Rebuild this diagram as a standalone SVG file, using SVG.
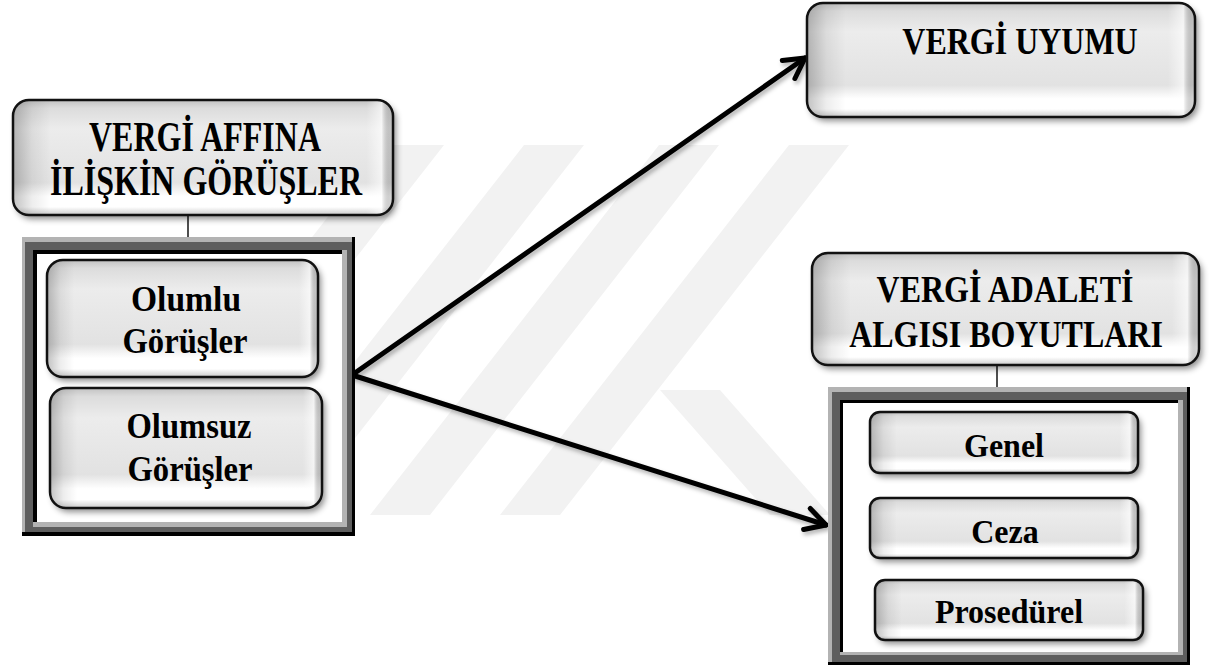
<svg xmlns="http://www.w3.org/2000/svg" width="1216" height="668" viewBox="0 0 1216 668">
  <defs>
    <style>
      .fill{fill:url(#gloss)}
      .edge{fill:url(#edges)}
      .outline{fill:none;stroke:#111;stroke-width:2.5}
      .t{font-family:"Liberation Serif","Times New Roman",serif;font-weight:bold;font-size:32px;fill:#000;text-anchor:middle}
      .wm{fill:#f2f2f2}
      .link{stroke:#222;stroke-width:1.6;fill:none}
      .arrow{stroke:#000;stroke-width:5;fill:none;stroke-linecap:round;marker-end:url(#head)}
    </style>
    <linearGradient id="gloss" x1="0" y1="0" x2="0" y2="1">
      <stop offset="0" stop-color="#c2c2c2"/>
      <stop offset="0.07" stop-color="#dcdcdc"/>
      <stop offset="0.25" stop-color="#ececec"/>
      <stop offset="0.72" stop-color="#e2e2e2"/>
      <stop offset="0.80" stop-color="#f6f6f6"/>
      <stop offset="0.84" stop-color="#ffffff"/>
      <stop offset="0.93" stop-color="#ffffff"/>
      <stop offset="1" stop-color="#cbcbcb"/>
    </linearGradient>
    <linearGradient id="edges" x1="0" y1="0" x2="1" y2="0">
      <stop offset="0" stop-color="#000" stop-opacity="0.24"/>
      <stop offset="0.05" stop-color="#000" stop-opacity="0.07"/>
      <stop offset="0.1" stop-color="#000" stop-opacity="0"/>
      <stop offset="0.93" stop-color="#fff" stop-opacity="0"/>
      <stop offset="0.97" stop-color="#fff" stop-opacity="0.6"/>
      <stop offset="1" stop-color="#000" stop-opacity="0.12"/>
    </linearGradient>
    <filter id="shadow" x="-10%" y="-10%" width="130%" height="150%">
      <feDropShadow dx="3" dy="4" stdDeviation="3" flood-color="#000" flood-opacity="0.45"/>
    </filter>
    <filter id="lineShadow" x="-10%" y="-10%" width="130%" height="130%">
      <feDropShadow dx="2" dy="3" stdDeviation="2" flood-color="#000" flood-opacity="0.3"/>
    </filter>
    <marker id="head" markerUnits="userSpaceOnUse" viewBox="-26 -15 30 30" markerWidth="30" markerHeight="30" refX="0" refY="0" orient="auto">
      <path d="M-20,-11 L0,0 L-20,11" fill="none" stroke="#000" stroke-width="5" stroke-linecap="round" stroke-linejoin="round"/>
    </marker>
  </defs>

  <rect width="1216" height="668" fill="#fff"/>

  <!-- faint background stripes -->
  <g id="watermark">
    <polygon class="wm" points="95,515 155,515 444,145 384,145"/>
    <polygon class="wm" points="235,515 295,515 584,145 524,145"/>
    <polygon class="wm" points="370,515 430,515 719,145 659,145"/>
    <polygon class="wm" points="500,515 560,515 849,145 789,145"/>
    <polygon class="wm" points="660,390 720,390 830,515 770,515"/>
  </g>

  <!-- connectors -->
  <g id="connectors">
    <line class="link" x1="188" y1="215" x2="188" y2="237"/>
    <line class="link" x1="997" y1="365" x2="997" y2="387"/>
    <g filter="url(#lineShadow)">
      <path class="arrow" d="M352,375 L805,58"/>
      <path class="arrow" d="M352,375 L826,525"/>
    </g>
  </g>

  <!-- left container frame -->
  <g id="frame-left">
    <rect x="22" y="237" width="333" height="299" fill="#000"/>
    <rect x="22" y="237" width="330" height="295" fill="#b3b3b3"/>
    <rect x="25" y="242" width="327" height="290" fill="#5e5e5e"/>
    <rect x="33" y="250" width="314" height="277" fill="#b3b3b3"/>
    <rect x="33" y="250" width="309" height="272" fill="#000"/>
    <rect x="37" y="254" width="305" height="268" fill="#fff"/>
  </g>

  <!-- right container frame -->
  <g id="frame-right">
    <rect x="828" y="387" width="362" height="278" fill="#000"/>
    <rect x="828" y="387" width="359" height="275" fill="#b3b3b3"/>
    <rect x="832" y="392" width="355" height="270" fill="#5e5e5e"/>
    <rect x="840" y="400" width="343" height="255" fill="#b3b3b3"/>
    <rect x="840" y="400" width="338" height="252" fill="#000"/>
    <rect x="843" y="403" width="335" height="249" fill="#fff"/>
  </g>

  <g id="vergi-affina">
    <rect class="fill" x="13" y="100" width="380" height="115" rx="16" filter="url(#shadow)"/>
    <rect class="edge" x="13" y="100" width="380" height="115" rx="16"/>
    <rect class="outline" x="13" y="100" width="380" height="115" rx="16"/>
    <text class="t" transform="translate(205 151) scale(1 1.3)">VERGİ AFFINA</text>
    <text class="t" transform="translate(206 195) scale(1 1.3)">İLİŞKİN GÖRÜŞLER</text>
  </g>

  <g id="vergi-uyumu">
    <rect class="fill" x="807" y="3" width="388" height="114" rx="16" filter="url(#shadow)"/>
    <rect class="edge" x="807" y="3" width="388" height="114" rx="16"/>
    <rect class="outline" x="807" y="3" width="388" height="114" rx="16"/>
    <text class="t" transform="translate(1020 54) scale(1 1.2)">VERGİ UYUMU</text>
  </g>

  <g id="vergi-adaleti">
    <rect class="fill" x="812" y="253" width="387" height="112" rx="16" filter="url(#shadow)"/>
    <rect class="edge" x="812" y="253" width="387" height="112" rx="16"/>
    <rect class="outline" x="812" y="253" width="387" height="112" rx="16"/>
    <text class="t" transform="translate(1005 302) scale(1 1.18)">VERGİ ADALETİ</text>
    <text class="t" transform="translate(1006 347) scale(1 1.18)">ALGISI BOYUTLARI</text>
  </g>

  <g id="olumlu">
    <rect class="fill" x="47" y="260" width="271" height="117" rx="16" filter="url(#shadow)"/>
    <rect class="edge" x="47" y="260" width="271" height="117" rx="16"/>
    <rect class="outline" x="47" y="260" width="271" height="117" rx="16"/>
    <text class="t" transform="translate(186 311) scale(1.05 1.15)">Olumlu</text>
    <text class="t" transform="translate(185 353) scale(1.02 1.15)">Görüşler</text>
  </g>

  <g id="olumsuz">
    <rect class="fill" x="50" y="388" width="272" height="120" rx="16" filter="url(#shadow)"/>
    <rect class="edge" x="50" y="388" width="272" height="120" rx="16"/>
    <rect class="outline" x="50" y="388" width="272" height="120" rx="16"/>
    <text class="t" transform="translate(189 438) scale(1.02 1.15)">Olumsuz</text>
    <text class="t" transform="translate(190 481) scale(1.02 1.15)">Görüşler</text>
  </g>

  <g id="genel">
    <rect class="fill" x="870" y="412" width="268" height="61" rx="10" filter="url(#shadow)"/>
    <rect class="edge" x="870" y="412" width="268" height="61" rx="10"/>
    <rect class="outline" x="870" y="412" width="268" height="61" rx="10"/>
    <text class="t" transform="translate(1004 457) scale(1 1.08)">Genel</text>
  </g>

  <g id="ceza">
    <rect class="fill" x="870" y="498" width="268" height="60" rx="10" filter="url(#shadow)"/>
    <rect class="edge" x="870" y="498" width="268" height="60" rx="10"/>
    <rect class="outline" x="870" y="498" width="268" height="60" rx="10"/>
    <text class="t" transform="translate(1005 543) scale(1 1.08)">Ceza</text>
  </g>

  <g id="prosedurel">
    <rect class="fill" x="875" y="580" width="268" height="60" rx="10" filter="url(#shadow)"/>
    <rect class="edge" x="875" y="580" width="268" height="60" rx="10"/>
    <rect class="outline" x="875" y="580" width="268" height="60" rx="10"/>
    <text class="t" transform="translate(1009 623) scale(1 1.08)">Prosedürel</text>
  </g>
</svg>
